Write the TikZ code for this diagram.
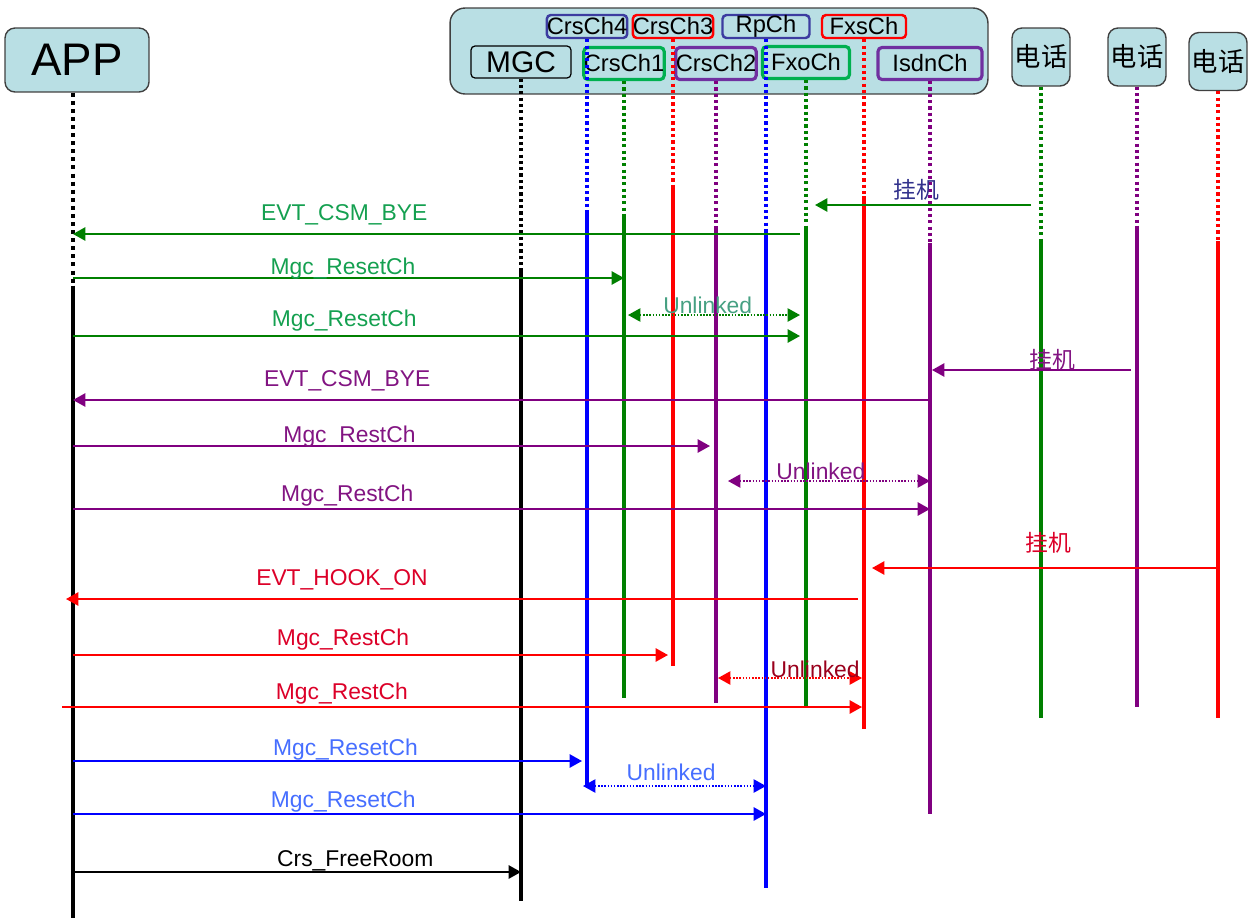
\documentclass[tikz,border=0pt]{standalone}
\usepackage{fontspec}
\setmainfont{Liberation Sans}
\newfontfamily\cjk{Noto Sans CJK SC}
\usepackage{xcolor}
\usetikzlibrary{arrows.meta}

\definecolor{boxfill}{RGB}{185,223,228}
\definecolor{seqgreen}{RGB}{0,128,0}
\definecolor{seqpurple}{RGB}{128,0,128}
\definecolor{seqred}{RGB}{255,0,0}
\definecolor{seqblue}{RGB}{0,0,255}
\definecolor{navyedge}{RGB}{60,60,160}
\definecolor{chgreen}{RGB}{0,176,80}
\definecolor{chpurple}{RGB}{112,48,160}
\definecolor{lblgreen}{RGB}{20,160,80}
\definecolor{lblteal}{RGB}{70,160,130}
\definecolor{lblpurple}{RGB}{130,20,130}
\definecolor{lblred}{RGB}{220,0,40}
\definecolor{lblblue}{RGB}{70,110,255}
\definecolor{lblnavy}{RGB}{50,50,140}

\begin{document}
\begin{tikzpicture}[
  x=0.02cm, y=-0.02cm,
  every node/.style={font=\fontsize{13}{15}\selectfont},
  actor/.style={draw=black!75, fill=boxfill, rounded corners=0.2cm, line width=0.8pt, align=center, inner sep=0pt},
  chgroup/.style={draw=black!75, fill=boxfill, rounded corners=0.3cm, line width=0.8pt, minimum width=10.76cm, minimum height=1.72cm},
  chtop/.style={draw, line width=1.4pt, rounded corners=0.08cm, fill=boxfill, inner sep=0pt, minimum height=0.46cm, minimum width=1.6cm, font=\fontsize{13.5}{15}\selectfont},
  chbot/.style={draw, line width=1.8pt, rounded corners=0.08cm, fill=boxfill, inner sep=0pt, minimum height=0.64cm, font=\fontsize{13.5}{15}\selectfont},
  dotline/.style={line width=1.8pt, dash pattern=on 1.8pt off 1.8pt},
  lifeline/.style={line width=1.8pt},
  msg/.style={line width=1.1pt, -{Triangle[length=7pt,width=7.5pt]}},
  link/.style={line width=0.9pt, dash pattern=on 0.9pt off 0.9pt, {Triangle[length=7pt,width=7.5pt]}-{Triangle[length=7pt,width=7.5pt]}},
  lbl/.style={inner sep=0pt},
  cjklbl/.style={inner sep=0pt, font=\cjk\fontsize{13}{15}\selectfont}
]
\useasboundingbox (0,0) rectangle (1255,917);

% participants
\node[chgroup] (mgw) at (719,51) {};
\node[actor, minimum width=2.88cm, minimum height=1.28cm, font=\fontsize{26}{28}\selectfont] (app) at (77,60) {APP};
\node[chbot, draw=black, line width=0.7pt, minimum width=2cm, font=\fontsize{17}{19}\selectfont] (mgc) at (521,62) {MGC};
\node[chbot, draw=chgreen, minimum width=1.48cm] (crs1) at (624,63.5) {CrsCh1};
\node[chbot, draw=chpurple, minimum width=1.52cm] (crs2) at (716,63.5) {CrsCh2};
\node[chbot, draw=chgreen, minimum width=1.74cm] (fxo) at (806,62.5) {FxoCh};
\node[chbot, draw=chpurple, minimum width=2.08cm] (isdn) at (930,63.5) {IsdnCh};
\node[chtop, draw=navyedge] (crs4) at (587,26.5) {CrsCh4};
\node[chtop, draw=seqred] (crs3) at (673,26.5) {CrsCh3};
\node[chtop, draw=navyedge, minimum width=1.74cm] (rp) at (766,26.5) {RpCh};
\node[chtop, draw=seqred, minimum width=1.68cm] (fxs) at (864,26.5) {FxsCh};
\node[actor, minimum size=1.16cm, font=\cjk\fontsize{15}{17}\selectfont] (tel1) at (1041,57) {电话};
\node[actor, minimum size=1.16cm, font=\cjk\fontsize{15}{17}\selectfont] (tel2) at (1137,57) {电话};
\node[actor, minimum size=1.16cm, font=\cjk\fontsize{15}{17}\selectfont] (tel3) at (1218,61.5) {电话};

% lifelines
\draw[dotline, black, line width=2.3pt, dash pattern=on 2.3pt off 2.3pt] ([xshift=-0.08cm]app.south) -- ++(0,193) coordinate (appl);
\draw[lifeline, black, line width=2.3pt] (appl) -- ++(0,632);
\draw[dotline, black] (mgc.south) -- ++(0,190) coordinate (mgcl);
\draw[lifeline, black] (mgcl) -- ++(0,632);
\draw[dotline, seqblue] (crs4.south) -- ++(0,172) coordinate (crs4l);
\draw[lifeline, seqblue] (crs4l) -- ++(0,575);
\draw[dotline, seqgreen] (crs1.south) -- ++(0,135) coordinate (crs1l);
\draw[lifeline, seqgreen] (crs1l) -- ++(0,482);
\draw[dotline, seqred] (crs3.south) -- ++(0,147) coordinate (crs3l);
\draw[lifeline, seqred] (crs3l) -- ++(0,480);
\draw[dotline, seqpurple] (crs2.south) -- ++(0,145) coordinate (crs2l);
\draw[lifeline, seqpurple] (crs2l) -- ++(0,477);
\draw[dotline, seqblue] (rp.south) -- ++(0,192) coordinate (rpl);
\draw[lifeline, seqblue] (rpl) -- ++(0,657);
\draw[dotline, seqgreen] (fxo.south) -- ++(0,149) coordinate (fxol);
\draw[lifeline, seqgreen] (fxol) -- ++(0,478);
\draw[dotline, seqred] (fxs.south) -- ++(0,157) coordinate (fxsl);
\draw[lifeline, seqred] (fxsl) -- ++(0,533);
\draw[dotline, seqpurple] (isdn.south) -- ++(0,162) coordinate (isdnl);
\draw[lifeline, seqpurple] (isdnl) -- ++(0,571);
\draw[dotline, seqgreen] (tel1.south) -- ++(0,154) coordinate (tel1l);
\draw[lifeline, seqgreen] (tel1l) -- ++(0,477);
\draw[dotline, seqpurple] (tel2.south) -- ++(0,139) coordinate (tel2l);
\draw[lifeline, seqpurple] (tel2l) -- ++(0,481);
\draw[dotline, seqred] (tel3.south) -- ++(0,150) coordinate (tel3l);
\draw[lifeline, seqred] (tel3l) -- ++(0,477);

% message rows
\coordinate (r1) at (0,205);
\coordinate (r2) at (0,234);
\coordinate (r3) at (0,278);
\coordinate (r4) at (0,315);
\coordinate (r5) at (0,336);
\coordinate (r6) at (0,370);
\coordinate (r7) at (0,400);
\coordinate (r8) at (0,446);
\coordinate (r9) at (0,481);
\coordinate (r10) at (0,509);
\coordinate (r11) at (0,568);
\coordinate (r12) at (0,599);
\coordinate (r13) at (0,655);
\coordinate (r14) at (0,678);
\coordinate (r15) at (0,707);
\coordinate (r16) at (0,761);
\coordinate (r17) at (0,786);
\coordinate (r18) at (0,814);
\coordinate (r19) at (0,872);

% messages
\draw[msg, seqgreen, shorten <=0.2cm, shorten >=0.18cm] (tel1 |- r1) -- node[cjklbl, pos=0.53, above=2pt, text=lblnavy] {挂机} (fxo |- r1);
\draw[msg, seqgreen, shorten <=0.12cm] (fxo |- r2) -- node[lbl, pos=0.63, above=4.5pt, text=lblgreen] {EVT\_CSM\_BYE} (appl |- r2);
\draw[msg, seqgreen] (appl |- r3) -- node[lbl, pos=0.49, above=-1pt, text=lblgreen] {Mgc\_ResetCh} (crs1 |- r3);
\draw[link, seqgreen, shorten <=0.08cm, shorten >=0.12cm] (crs1 |- r4) -- node[lbl, pos=0.46, above=0.5pt, text=lblteal] {Unlinked} (fxo |- r4);
\draw[msg, seqgreen, shorten >=0.12cm] (appl |- r5) -- node[lbl, pos=0.37, above=2.3pt, text=lblgreen] {Mgc\_ResetCh} (fxo |- r5);

\draw[msg, seqpurple, shorten <=0.12cm, shorten >=0.04cm] (tel2 |- r6) -- node[cjklbl, pos=0.41, above=-0.5pt, text=lblpurple] {挂机} (isdn |- r6);
\draw[msg, seqpurple] (isdn |- r7) -- node[lbl, pos=0.68, above=4.5pt, text=lblpurple] {EVT\_CSM\_BYE} (appl |- r7);
\draw[msg, seqpurple, shorten >=0.12cm] (appl |- r8) -- node[lbl, pos=0.43, above=-1pt, text=lblpurple] {Mgc\_RestCh} (crs2 |- r8);
\draw[link, seqpurple, shorten <=0.24cm] (crs2 |- r9) -- node[lbl, pos=0.49, above=0.5pt, text=lblpurple] {Unlinked} (isdn |- r9);
\draw[msg, seqpurple] (appl |- r10) -- node[lbl, pos=0.32, above=1pt, text=lblpurple] {Mgc\_RestCh} (isdn |- r10);

\draw[msg, seqred, shorten >=0.16cm] (tel3 |- r11) -- node[cjklbl, pos=0.48, above=8pt, text=lblred] {挂机} (fxs |- r11);
\draw[msg, seqred, shorten <=0.12cm, shorten >=-0.14cm] (fxs |- r12) -- node[lbl, pos=0.66, above=4.5pt, text=lblred] {EVT\_HOOK\_ON} (appl |- r12);
\draw[msg, seqred, shorten >=0.1cm] (appl |- r13) -- node[lbl, pos=0.45, above=2.3pt, text=lblred] {Mgc\_RestCh} (crs3 |- r13);
\draw[link, seqred, shorten <=0.04cm, shorten >=0.04cm] (crs2 |- r14) -- node[lbl, pos=0.67, above=-0.5pt, text=lblred!70!black] {Unlinked} (fxs |- r14);
\draw[msg, seqred, shorten <=-0.22cm, shorten >=0.04cm] (appl |- r15) -- node[lbl, pos=0.34, above=1pt, text=lblred] {Mgc\_RestCh} (fxs |- r15);

\draw[msg, seqblue, shorten >=0.1cm] (appl |- r16) -- node[lbl, pos=0.53, above=0pt, text=lblblue] {Mgc\_ResetCh} (crs4 |- r16);
\draw[link, seqblue, shorten <=-0.08cm] (crs4 |- r17) -- node[lbl, pos=0.47, above=2.3pt, text=lblblue] {Unlinked} (rp |- r17);
\draw[msg, seqblue] (appl |- r18) -- node[lbl, pos=0.39, above=0.5pt, text=lblblue] {Mgc\_ResetCh} (rp |- r18);

\draw[msg, black] (appl |- r19) -- node[lbl, pos=0.63, above=0pt] {Crs\_FreeRoom} (mgc |- r19);
\end{tikzpicture}
\end{document}
